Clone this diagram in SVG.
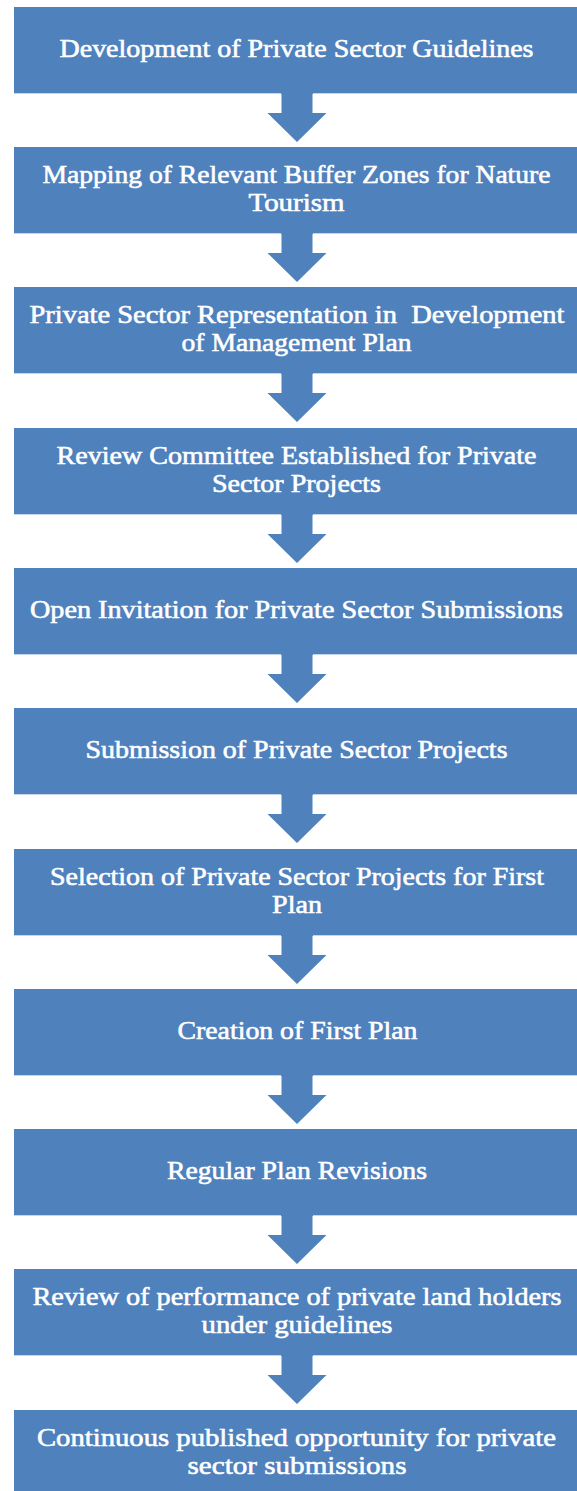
<svg xmlns="http://www.w3.org/2000/svg" xmlns:xlink="http://www.w3.org/1999/xlink" width="577" height="1491" viewBox="0 0 577 1491">
<style>
.box{fill:#4F81BD}
.edge{fill:#C5D5EA}
.lbl{font-family:"Liberation Serif","Times New Roman",serif;font-size:26px;fill:#FFFFFF;text-anchor:middle;stroke:#FFFFFF;stroke-width:0.6}
.arr{fill:#4F81BD}
</style>
<defs>
<path id="arrow" d="M281.5,-1 L312.5,-1 L312.5,19 L326.5,19 L297,48 L267.5,19 L281.5,19 Z"/>
</defs>
<rect width="577" height="1491" fill="#FFFFFF"/>
<g id="connectors" class="arr">
<use xlink:href="#arrow" y="94"/>
<use xlink:href="#arrow" y="234"/>
<use xlink:href="#arrow" y="374"/>
<use xlink:href="#arrow" y="515"/>
<use xlink:href="#arrow" y="655"/>
<use xlink:href="#arrow" y="795"/>
<use xlink:href="#arrow" y="936"/>
<use xlink:href="#arrow" y="1076"/>
<use xlink:href="#arrow" y="1216"/>
<use xlink:href="#arrow" y="1356"/>
</g>
<g id="n1"><rect class="box" x="14" y="7" width="570" height="87"/><rect class="edge" x="14" y="93" width="267" height="1"/><rect class="edge" x="313" y="93" width="264" height="1"/>
<text class="lbl" x="296.5" y="57" textLength="474" lengthAdjust="spacingAndGlyphs">Development of Private Sector Guidelines</text></g>
<g id="n2"><rect class="box" x="14" y="147" width="570" height="87"/><rect class="edge" x="14" y="233" width="267" height="1"/><rect class="edge" x="313" y="233" width="264" height="1"/>
<text class="lbl" x="296.5" y="183" textLength="508" lengthAdjust="spacingAndGlyphs">Mapping of Relevant Buffer Zones for Nature</text>
<text class="lbl" x="296.5" y="211" textLength="96" lengthAdjust="spacingAndGlyphs">Tourism</text></g>
<g id="n3"><rect class="box" x="14" y="287" width="570" height="87"/><rect class="edge" x="14" y="373" width="267" height="1"/><rect class="edge" x="313" y="373" width="264" height="1"/>
<text class="lbl" x="297" y="323" textLength="535" lengthAdjust="spacingAndGlyphs" xml:space="preserve">Private Sector Representation in  Development</text>
<text class="lbl" x="296.5" y="351" textLength="230" lengthAdjust="spacingAndGlyphs">of Management Plan</text></g>
<g id="n4"><rect class="box" x="14" y="428" width="570" height="87"/><rect class="edge" x="14" y="514" width="267" height="1"/><rect class="edge" x="313" y="514" width="264" height="1"/>
<text class="lbl" x="296.5" y="464" textLength="480" lengthAdjust="spacingAndGlyphs">Review Committee Established for Private</text>
<text class="lbl" x="296.5" y="492" textLength="169" lengthAdjust="spacingAndGlyphs">Sector Projects</text></g>
<g id="n5"><rect class="box" x="14" y="568" width="570" height="87"/><rect class="edge" x="14" y="654" width="267" height="1"/><rect class="edge" x="313" y="654" width="264" height="1"/>
<text class="lbl" x="296.5" y="618" textLength="533" lengthAdjust="spacingAndGlyphs">Open Invitation for Private Sector Submissions</text></g>
<g id="n6"><rect class="box" x="14" y="708" width="570" height="87"/><rect class="edge" x="14" y="794" width="267" height="1"/><rect class="edge" x="313" y="794" width="264" height="1"/>
<text class="lbl" x="296.5" y="758" textLength="422" lengthAdjust="spacingAndGlyphs">Submission of Private Sector Projects</text></g>
<g id="n7"><rect class="box" x="14" y="849" width="570" height="87"/><rect class="edge" x="14" y="935" width="267" height="1"/><rect class="edge" x="313" y="935" width="264" height="1"/>
<text class="lbl" x="297" y="885" textLength="494" lengthAdjust="spacingAndGlyphs">Selection of Private Sector Projects for First</text>
<text class="lbl" x="297" y="913" textLength="50" lengthAdjust="spacingAndGlyphs">Plan</text></g>
<g id="n8"><rect class="box" x="14" y="989" width="570" height="87"/><rect class="edge" x="14" y="1075" width="267" height="1"/><rect class="edge" x="313" y="1075" width="264" height="1"/>
<text class="lbl" x="297.5" y="1039" textLength="240" lengthAdjust="spacingAndGlyphs">Creation of First Plan</text></g>
<g id="n9"><rect class="box" x="14" y="1129" width="570" height="87"/><rect class="edge" x="14" y="1215" width="267" height="1"/><rect class="edge" x="313" y="1215" width="264" height="1"/>
<text class="lbl" x="297" y="1179" textLength="260" lengthAdjust="spacingAndGlyphs">Regular Plan Revisions</text></g>
<g id="n10"><rect class="box" x="14" y="1269" width="570" height="87"/><rect class="edge" x="14" y="1355" width="267" height="1"/><rect class="edge" x="313" y="1355" width="264" height="1"/>
<text class="lbl" x="297" y="1305" textLength="529" lengthAdjust="spacingAndGlyphs">Review of performance of private land holders</text>
<text class="lbl" x="297" y="1333" textLength="191" lengthAdjust="spacingAndGlyphs">under guidelines</text></g>
<g id="n11"><rect class="box" x="14" y="1410" width="570" height="87"/>
<text class="lbl" x="296.5" y="1446" textLength="519" lengthAdjust="spacingAndGlyphs">Continuous published opportunity for private</text>
<text class="lbl" x="297" y="1474" textLength="219" lengthAdjust="spacingAndGlyphs">sector submissions</text></g>
</svg>
